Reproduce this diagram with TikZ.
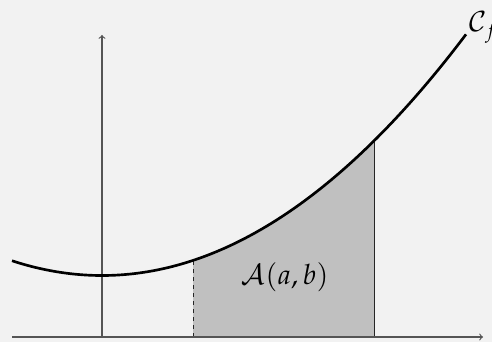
\documentclass[tikz,border=0pt]{standalone}
\usepackage{mathpazo}
\definecolor{bgc}{HTML}{F2F2F2}
\definecolor{regionfill}{HTML}{C0C0C0}
\definecolor{axisgray}{HTML}{555555}
\begin{document}
\begin{tikzpicture}[x=0.75pt,y=-0.75pt,
  axisline/.style={draw=axisgray,line width=0.9pt,->},
  curveline/.style={draw=black,line width=2pt},
  edgeline/.style={draw=black!85,line width=0.7pt},
  bigtext/.style={font=\fontsize{21}{25}\selectfont,inner sep=0pt}]
\fill[bgc] (0,0) rectangle (492,342);
\useasboundingbox (0,0) rectangle (492,342);
\coordinate (xs) at (12,337);
\coordinate (xe) at (483,337);
\coordinate (ys) at (102,337);
\coordinate (ye) at (102,35);
\coordinate (a0) at (193,337);
\coordinate (a1) at (193,260.4);
\coordinate (b0) at (374,337);
\coordinate (b1) at (374,140.85);
\fill[regionfill] (a0) -- plot[domain=193:374,samples=80] (\x,{275.5-18.2*((\x-102)/100)^2}) -- (b0) -- cycle;
\draw[edgeline,dashed] (a0) -- (a1);
\draw[edgeline] (b0) -- (b1);
\draw[axisline] (xs) -- (xe);
\draw[axisline] (ys) -- (ye);
\draw[curveline] plot[domain=12:466,samples=120,smooth] (\x,{275.5-18.2*((\x-102)/100)^2});
\node[bigtext] (area) at (285,277) {$\mathcal{A}(a,b)$};
\node[bigtext,anchor=base west] (cf) at (469,32) {$\mathcal{C}_f$};
\end{tikzpicture}
\end{document}
